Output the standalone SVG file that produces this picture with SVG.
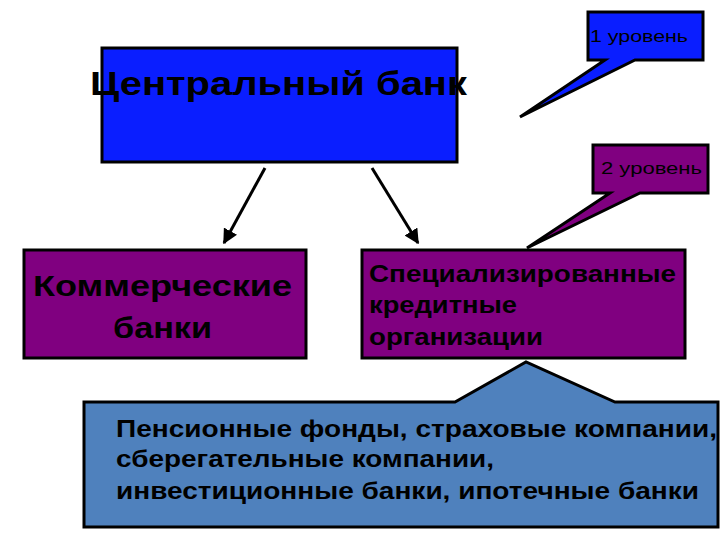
<svg xmlns="http://www.w3.org/2000/svg" width="720" height="540" viewBox="0 0 720 540">
<defs>
<style>
text{font-family:"Liberation Sans",Arial,sans-serif;font-weight:bold;fill:#000}
.n{font-weight:normal}
.b{stroke:#000;stroke-width:3}
</style>
<marker id="ah" viewBox="0 0 10 10" refX="9" refY="5" markerWidth="5" markerHeight="5" orient="auto"><path d="M0,0L10,5L0,10z" fill="#000"/></marker>
</defs>
<rect width="720" height="540" fill="#fff"/>
<g id="central"><rect class="b" x="102" y="48" width="355" height="114" fill="#0a1eff"/><text x="90" y="95" font-size="34" textLength="377" lengthAdjust="spacingAndGlyphs">Центральный банк</text></g>
<g id="level1"><path class="b" d="M588,12H703V60H635L520,117L605,60H588Z" fill="#0a1eff"/><text class="n" x="590" y="42" font-size="16" textLength="98" lengthAdjust="spacingAndGlyphs">1 уровень</text></g>
<g id="level2"><path class="b" d="M593,145H708V193H640L527,248L610,193H593Z" fill="#800080"/><text class="n" x="601" y="174" font-size="16" textLength="101" lengthAdjust="spacingAndGlyphs">2 уровень</text></g>
<g id="commercial"><rect class="b" x="24" y="250" width="282" height="108" fill="#800080"/><text x="33" y="296" font-size="30" textLength="259" lengthAdjust="spacingAndGlyphs">Коммерческие</text><text x="113" y="338" font-size="30" textLength="99" lengthAdjust="spacingAndGlyphs">банки</text></g>
<g id="special"><rect class="b" x="362" y="250" width="323" height="108" fill="#800080"/><text x="369" y="282" font-size="24" textLength="307" lengthAdjust="spacingAndGlyphs">Специализированные</text><text x="369" y="313" font-size="24" textLength="148" lengthAdjust="spacingAndGlyphs">кредитные</text><text x="369" y="345" font-size="24" textLength="174" lengthAdjust="spacingAndGlyphs">организации</text></g>
<g id="others"><path class="b" d="M84,402H455L526,362L615,402H718V527H84Z" fill="#4f81bd"/><text x="116" y="437" font-size="24" textLength="601" lengthAdjust="spacingAndGlyphs">Пенсионные фонды, страховые компании,</text><text x="116" y="467" font-size="24" textLength="378" lengthAdjust="spacingAndGlyphs">сберегательные компании,</text><text x="116" y="499" font-size="24" textLength="583" lengthAdjust="spacingAndGlyphs">инвестиционные банки, ипотечные банки</text></g>
<g id="connectors" stroke="#000" stroke-width="3" fill="none"><line x1="265" y1="168" x2="224" y2="243" marker-end="url(#ah)"/><line x1="372" y1="168" x2="418" y2="243" marker-end="url(#ah)"/></g>
</svg>
